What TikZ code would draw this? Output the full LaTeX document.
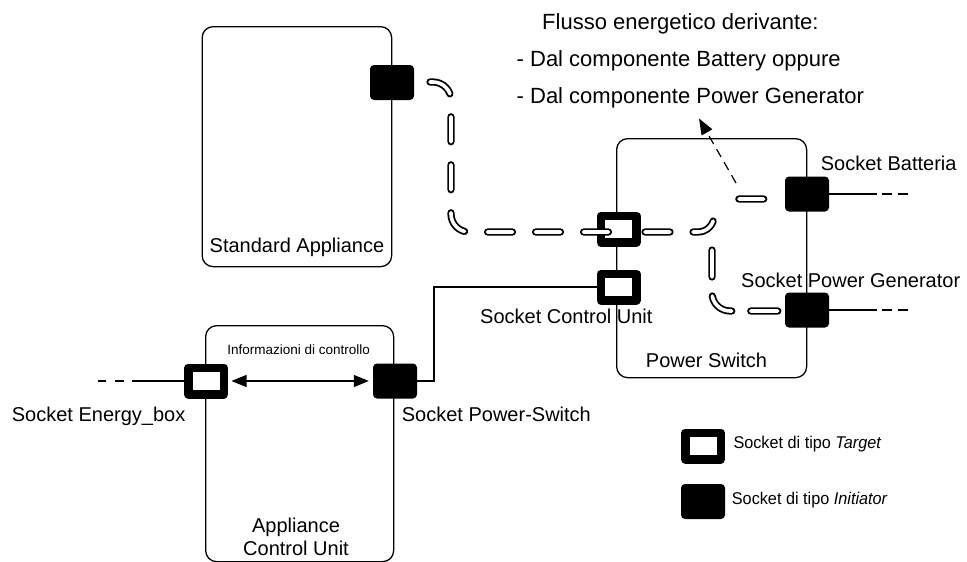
\documentclass[tikz,border=0pt]{standalone}
\usepackage{fontspec}
\setmainfont{Liberation Sans}
\usetikzlibrary{arrows.meta}
\begin{document}
\begin{tikzpicture}[x=1pt,y=-1pt,
  box/.style={draw, line width=1.3pt, rounded corners=11pt, inner sep=0pt},
  initsock/.style={fill=black, rounded corners=4pt, minimum width=44pt, minimum height=35pt, inner sep=0pt},
  targsock/.style={draw=black, fill=white, line width=8.5pt, line join=round, minimum width=35.5pt, minimum height=26.5pt, inner sep=0pt},
  lbl/.style={font=\fontsize{20}{24}\selectfont, inner sep=0pt},
  toplbl/.style={font=\fontsize{22}{26}\selectfont, inner sep=0pt, anchor=base west},
  leglbl/.style={font=\fontsize{17}{20}\selectfont, inner sep=0pt, anchor=base west},
  pipe/.style={double=white, double distance=3.6pt, line width=1.8pt, line cap=round, dash pattern=on 25pt off 23pt},
  wire/.style={line width=1.2pt},
  tri/.tip={Triangle[length=15pt,width=12pt]},
]
\useasboundingbox (0,0) rectangle (967,562);

% boxes
\node[box, minimum width=189.5pt, minimum height=240pt, anchor=north west] (sa) at (201.5,26) {};
\node[box, minimum width=190pt, minimum height=239pt, anchor=north west] (ps) at (616,138) {};
\node[box, minimum width=188pt, minimum height=236pt, anchor=north west] (acu) at (205,325) {};

% box titles
\node[lbl, anchor=base] (satxt) at (297,252) {Standard Appliance};
\node[lbl, anchor=base] (pstxt) at (706.5,367.7) {Power Switch};
\node[lbl, anchor=base] (acutxt1) at (296,532) {Appliance};
\node[lbl, anchor=base] (acutxt2) at (296,555) {Control Unit};
\node[font=\fontsize{13.5}{16}\selectfont, inner sep=0pt, anchor=base] (info) at (298.7,354) {Informazioni di controllo};

% top text
\node[toplbl] (top1) at (542,30) {Flusso energetico derivante:};
\node[toplbl] (top2) at (516.5,66.7) {- Dal componente Battery oppure};
\node[toplbl] (top3) at (516.5,103.3) {- Dal componente Power Generator};

% socket labels
\node[lbl, anchor=base west] (lbat) at (820.7,170) {Socket Batteria};
\node[lbl, anchor=base west] (lgen) at (741,287) {Socket Power Generator};
\node[lbl, anchor=base west] (lcu) at (480,323.3) {Socket Control Unit};
\node[lbl, anchor=base west] (leb) at (11.7,421.7) {Socket Energy\_box};
\node[lbl, anchor=base west] (lpsw) at (401.7,421.7) {Socket Power-Switch};

% sockets
\node[initsock] (sasock) at (392,82.5) {};
\node[targsock] (pstop) at (618.5,229) {};
\node[targsock] (pscu) at (618.5,287) {};
\node[initsock] (psbat) at (807,194) {};
\node[initsock] (psgen) at (807,310) {};
\node[targsock] (acueb) at (206,381) {};
\node[initsock] (acups) at (395,381) {};

% legend
\node[targsock] (legt) at (703,446) {};
\node[initsock] (legi) at (703,501.5) {};
\node[leglbl] (legttxt) at (733.3,448.3) {\scalebox{0.955}[1]{Socket di tipo \textit{Target}}};
\node[leglbl] (legitxt) at (731.7,504.3) {\scalebox{0.955}[1]{Socket di tipo \textit{Initiator}}};

% external wires
\coordinate (bat1) at (877,194);
\coordinate (bat2) at (912,194);
\coordinate (gen1) at (877,310);
\coordinate (gen2) at (912,310);
\coordinate (eb1) at (132,381);
\coordinate (eb2) at (96,381);
\draw[wire] (psbat.east) -- (bat1);
\draw[wire, dash pattern=on 0pt off 5pt on 10pt off 6pt on 10pt off 20pt] (bat1) -- (bat2);
\draw[wire] (psgen.east) -- (gen1);
\draw[wire, dash pattern=on 0pt off 5pt on 10pt off 6pt on 10pt off 20pt] (gen1) -- (gen2);
\draw[wire] (acueb.west) -- (eb1);
\draw[wire, dash pattern=on 0pt off 8pt on 9pt off 9pt on 8pt off 30pt] (eb1) -- (eb2);

% control wire
\coordinate (cuturn) at (434,381);
\draw[wire] (pscu.west) -| (cuturn) -- (acups.east);

% control information arrow
\draw[wire, tri-tri, shorten <=3.5pt, shorten >=4pt] (acueb.east) -- (acups.west);

% energy flow arrow
\coordinate (flowstart) at (736,183);
\coordinate (flowtip) at (699,118.5);
\draw[wire, dash pattern=on 9pt off 6pt, -{Triangle[length=16pt,width=12pt]}] (flowstart) -- (flowtip);

% energy pipes
\coordinate (pa0) at (430,82);
\coordinate (pa1) at (451,232);
\coordinate (pa2) at (619,232);
\draw[pipe, rounded corners=18pt] (pa0) -| (pa1) -- (pa2);
\coordinate (pb0) at (645,232);
\coordinate (pb1) at (714,232);
\coordinate (pb2) at (784,199);
\draw[pipe, rounded corners=16pt, dash pattern=on 25pt off 23pt on 25pt off 40pt] (pb0) -- (pb1) |- (pb2);
\coordinate (pc0) at (712,250);
\coordinate (pc1) at (784,311);
\draw[pipe, rounded corners=18pt, dash pattern=on 27pt off 19pt] (pc0) |- (pc1);
\end{tikzpicture}
\end{document}
